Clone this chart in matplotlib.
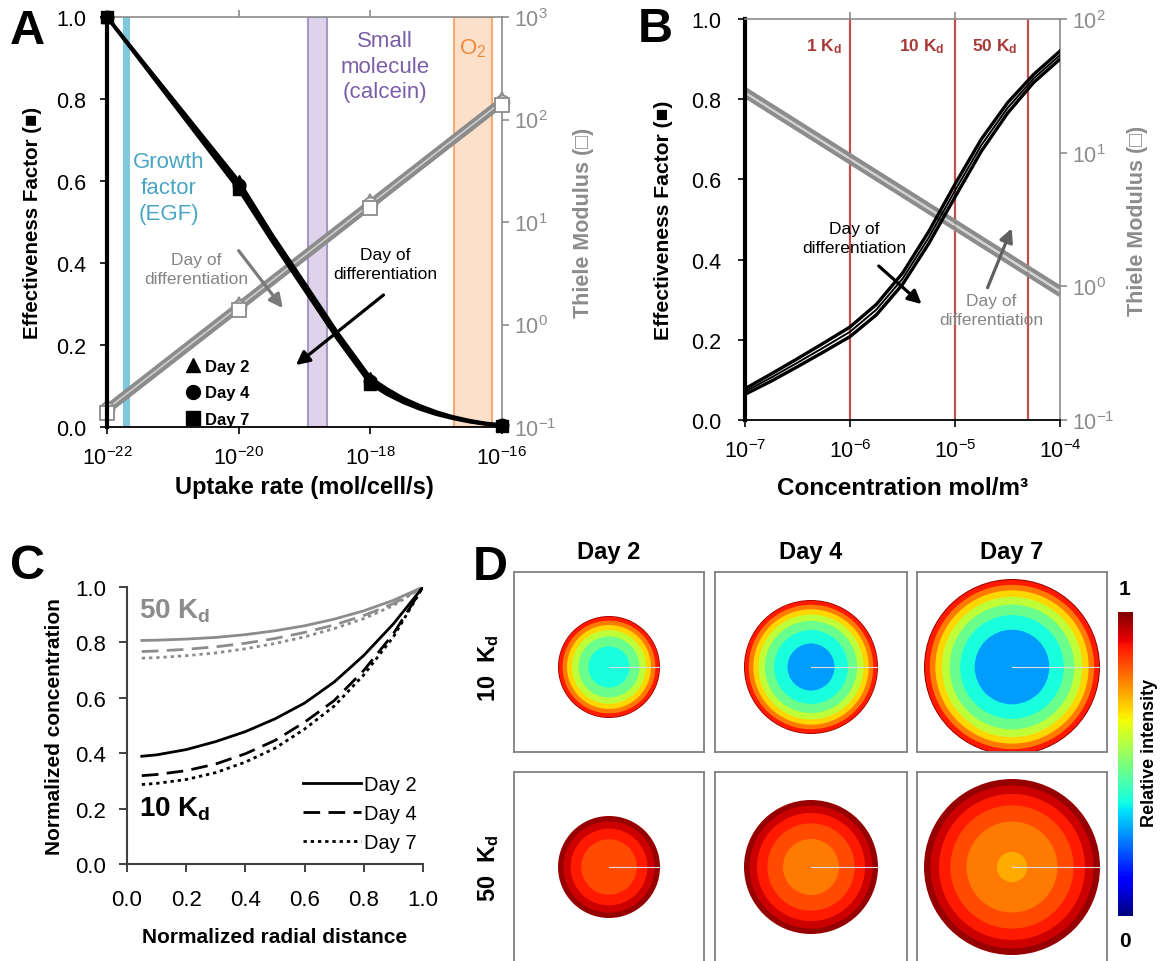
import numpy as np
import matplotlib
matplotlib.use('Agg')
import matplotlib.pyplot as plt
from matplotlib.lines import Line2D
from matplotlib.patches import Circle
from matplotlib.ticker import NullLocator, FormatStrFormatter
from matplotlib import cm
from matplotlib.colors import Normalize

plt.rcParams['font.family'] = ['Liberation Sans', 'DejaVu Sans']
plt.rcParams['mathtext.fontset'] = 'custom'
plt.rcParams['mathtext.rm'] = 'Liberation Sans'
plt.rcParams['mathtext.bf'] = 'Liberation Sans:bold'
plt.rcParams['mathtext.default'] = 'regular'

# ---------------- data ----------------
days = ['Day 2', 'Day 4', 'Day 7']
day_markers = ['^', 'o', 's']

# A: effectiveness factor / Thiele modulus vs uptake rate (log10 of mol/cell/s)
uptake_exp = [-22, -21, -20, -19.5, -19, -18.5, -18, -17.75, -17.5, -17.25, -17,
              -16.75, -16.5, -16.25, -16]
eff_a_day2 = [1.0, 0.80, 0.60, 0.471, 0.351, 0.23, 0.12, 0.093, 0.07, 0.052, 0.037,
              0.025, 0.016, 0.009, 0.005]
eff_a_day4 = [1.0, 0.795, 0.59, 0.463, 0.343, 0.222, 0.112, 0.086, 0.065, 0.048, 0.034,
              0.023, 0.014, 0.008, 0.004]
eff_a_day7 = [1.0, 0.79, 0.58, 0.455, 0.335, 0.215, 0.105, 0.08, 0.06, 0.044, 0.031,
              0.021, 0.013, 0.007, 0.003]
eff_marker_idx = [0, 2, 6, 14]
thiele_exp = [-22, -20, -18, -16]
thiele_a_day2 = [0.16, 1.6, 16.0, 160.0]
thiele_a_day4 = [0.149, 1.49, 14.9, 149.0]
thiele_a_day7 = [0.138, 1.38, 13.8, 138.0]
band_names = ['Growth\nfactor\n(EGF)', 'Small\nmolecule\n(calcein)', 'O$_2$']
band_lo_exp = [-21.74, -18.94, -16.73]
band_hi_exp = [-21.66, -18.66, -16.15]

# B: effectiveness factor / Thiele modulus vs concentration (log10 of mol/m3)
conc_exp = [-7, -6.75, -6.5, -6.25, -6, -5.75, -5.5, -5.25, -5, -4.75, -4.5, -4.25, -4]
eff_b_day2 = [0.078, 0.115, 0.153, 0.192, 0.232, 0.288, 0.366, 0.470, 0.588, 0.700,
              0.791, 0.862, 0.920]
eff_b_day4 = [0.071, 0.106, 0.143, 0.181, 0.220, 0.275, 0.352, 0.455, 0.572, 0.685,
              0.778, 0.852, 0.910]
eff_b_day7 = [0.064, 0.097, 0.133, 0.170, 0.208, 0.262, 0.338, 0.440, 0.556, 0.670,
              0.765, 0.842, 0.900]
thiele_b_exp = [-7, -4]
thiele_b_day2 = [26.5, 0.86]
thiele_b_day4 = [28.2, 0.92]
thiele_b_day7 = [30.0, 0.98]
kd_conc = [1e-6, 1e-5, 5e-5]
kd_labels = ['1 K$_\\mathbf{d}$', '10 K$_\\mathbf{d}$', '50 K$_\\mathbf{d}$']

# C: normalized concentration profiles
radial_pos = [0.05, 0.1, 0.2, 0.3, 0.4, 0.5, 0.6, 0.7, 0.8, 0.9, 1.0]
c10_day2 = [0.389, 0.394, 0.413, 0.442, 0.478, 0.524, 0.581, 0.657, 0.753, 0.867, 1.0]
c10_day4 = [0.319, 0.323, 0.337, 0.361, 0.398, 0.446, 0.512, 0.590, 0.699, 0.831, 1.0]
c10_day7 = [0.287, 0.291, 0.305, 0.330, 0.368, 0.418, 0.487, 0.570, 0.683, 0.820, 1.0]
c50_day2 = [0.807, 0.808, 0.812, 0.818, 0.828, 0.842, 0.860, 0.884, 0.914, 0.952, 1.0]
c50_day4 = [0.767, 0.769, 0.775, 0.784, 0.797, 0.814, 0.836, 0.863, 0.897, 0.940, 1.0]
c50_day7 = [0.743, 0.745, 0.752, 0.762, 0.777, 0.796, 0.820, 0.850, 0.886, 0.933, 1.0]

# D: relative spheroid radius per day
sphere_radius = [51, 67, 88]

# ---------------- figure ----------------
W, H = 1163, 962
fig = plt.figure(figsize=(W / 100, H / 100), dpi=100)


def px_axes(left, top, right, bottom):
    return fig.add_axes([left / W, 1 - bottom / H, (right - left) / W, (bottom - top) / H])


GRAY = '#8c8c8c'
LGRAY = '#cfcfcf'
TXTGRAY = '#858585'


def dual_axes(box, xlim, xticks, top_ticks, rlim, rticks, lpad):
    ax = px_axes(*box)
    ax.set_xscale('log')
    ax.set_xlim(*xlim)
    ax2 = ax.twinx()
    ax.set_zorder(ax2.get_zorder() + 1)
    ax.patch.set_visible(False)
    ax2.set_yscale('log')
    ax2.set_ylim(*rlim)
    ax.set_ylim(0, 1)
    ax.set_xticks(xticks)
    ax.xaxis.set_minor_locator(NullLocator())
    ax.set_yticks(np.arange(0, 1.01, 0.2))
    ax.yaxis.set_major_formatter(FormatStrFormatter('%.1f'))
    ax2.set_yticks(rticks)
    ax2.yaxis.set_minor_locator(NullLocator())
    ax.tick_params(labelsize=15.5, direction='out', length=5, width=1.2)
    ax.tick_params(axis='x', pad=9)
    ax.tick_params(axis='y', pad=lpad)
    ax2.tick_params(axis='y', labelsize=15.5, direction='out', length=5, width=1.2,
                    colors=GRAY)
    ax.spines['left'].set_linewidth(3)
    ax.spines['bottom'].set_linewidth(1.3)
    ax.spines['right'].set_visible(False)
    ax.spines['top'].set_color(GRAY)
    ax.spines['top'].set_linewidth(1.2)
    for s in ['left', 'top', 'bottom']:
        ax2.spines[s].set_visible(False)
    ax2.spines['right'].set_color(GRAY)
    ax2.spines['right'].set_linewidth(1.2)
    sec = ax.secondary_xaxis('top')
    sec.set_xticks(top_ticks, labels=[''] * len(top_ticks))
    sec.xaxis.set_minor_locator(NullLocator())
    sec.tick_params(direction='out', length=5, width=1.2, color=GRAY)
    sec.spines['top'].set_visible(False)
    return ax, ax2


def arrow(ax, tail, head, color):
    ax.annotate('', xy=head, xytext=tail,
                arrowprops=dict(arrowstyle='-|>', color=color, lw=2.3,
                                mutation_scale=20, shrinkA=0, shrinkB=0))


# ---------------- panel A ----------------
axA, axA2 = dual_axes((107, 18, 502, 428), (1e-22, 1e-16),
                      [1e-22, 1e-20, 1e-18, 1e-16], [1e-20, 1e-18],
                      (0.1, 1000), [0.1, 1, 10, 100, 1000], 10)
axA.set_ylabel('Effectiveness Factor (■)', fontsize=14.8, fontweight='bold', labelpad=10)
axA2.set_ylabel('Thiele Modulus (□)', fontsize=15.5, fontweight='bold', color=GRAY,
                labelpad=12)
axA.set_xlabel('Uptake rate (mol/cell/s)', fontsize=17, fontweight='bold', labelpad=4)

band_face = ['#7fc8dd', '#ddd3ea', '#fde0c9']
band_edge = ['#7fc8dd', '#a898c8', '#f4aa76']
band_text = ['#4aa5c4', '#7b5ea8', '#f08a3a']
band_text_pos = [(-21.06, 0.584), (-17.78, 0.88), (-16.44, 0.925)]
for lo, hi, fc, ec in zip(band_lo_exp, band_hi_exp, band_face, band_edge):
    axA2.axvspan(10.0 ** lo, 10.0 ** hi, facecolor=fc, edgecolor=ec, lw=1.5, zorder=0)
for name, col, (tx, ty) in zip(band_names, band_text, band_text_pos):
    axA.text(10.0 ** tx, ty, name, ha='center', va='center', fontsize=16, color=col,
             linespacing=1.3)

thiele_x = 10.0 ** np.array(thiele_exp)
for vals, col, lw in zip([thiele_a_day2, thiele_a_day4, thiele_a_day7],
                         [GRAY, LGRAY, GRAY], [3, 1.3, 3]):
    axA2.plot(thiele_x, vals, color=col, lw=lw, zorder=2, solid_capstyle='butt')
for vals, mk in zip([thiele_a_day2, thiele_a_day4, thiele_a_day7], day_markers):
    axA2.plot(thiele_x, vals, ls='none', marker=mk, ms=10, mfc='white', mec=GRAY,
              mew=1.3, clip_on=False, zorder=3)

uptake = 10.0 ** np.array(uptake_exp)
for vals, mk in zip([eff_a_day2, eff_a_day4, eff_a_day7], day_markers):
    axA.plot(uptake, vals, color='k', lw=2.5, marker=mk, ms=9, markevery=eff_marker_idx,
             clip_on=False, zorder=4)

axA.text(10.0 ** -20.65, 0.386, 'Day of\ndifferentiation', ha='center', va='center',
         fontsize=12.5, color=TXTGRAY, linespacing=1.35)
arrow(axA, (10.0 ** -20.0, 0.43), (10.0 ** -19.33, 0.29), '#7a7a7a')
axA.text(10.0 ** -17.78, 0.398, 'Day of\ndifferentiation', ha='center', va='center',
         fontsize=12.5, color='k', linespacing=1.35)
arrow(axA, (10.0 ** -17.8, 0.322), (10.0 ** -19.13, 0.151), 'k')

handles = [Line2D([], [], ls='none', marker=m, color='k', ms=10) for m in day_markers]
axA.legend(handles, days, loc='lower left', bbox_to_anchor=(0.2, 0.0), frameon=False,
           prop={'weight': 'bold', 'size': 12}, handlelength=0.8, handletextpad=0.35,
           labelspacing=0.7, borderpad=0, borderaxespad=0)

# ---------------- panel B ----------------
axB, axB2 = dual_axes((745, 20, 1060, 421), (1e-7, 1e-4),
                      [1e-7, 1e-6, 1e-5, 1e-4], [1e-6, 1e-5],
                      (0.1, 100), [0.1, 1, 10, 100], 12)
axB.set_ylabel('Effectiveness Factor (■)', fontsize=15.2, fontweight='bold', labelpad=13)
axB2.set_ylabel('Thiele Modulus (□)', fontsize=15.5, fontweight='bold', color=GRAY,
                labelpad=9)
axB.set_xlabel('Concentration mol/m³', fontsize=17.5, fontweight='bold', labelpad=10)

for kc in kd_conc:
    axB2.axvline(kc, color='#c0504d', lw=1.6, zorder=0)
for kc, lab, lx in zip(kd_conc, kd_labels, [-6.25, -5.32, -4.62]):
    axB.text(10.0 ** lx, 0.933, lab, ha='center', va='center', fontsize=12.5,
             fontweight='bold', color='#a83a38')

thiele_bx = 10.0 ** np.array(thiele_b_exp)
for vals, col, lw in zip([thiele_b_day2, thiele_b_day4, thiele_b_day7],
                         [GRAY, LGRAY, GRAY], [3, 1.3, 3]):
    axB2.plot(thiele_bx, vals, color=col, lw=lw, zorder=2, solid_capstyle='butt')

conc = 10.0 ** np.array(conc_exp)
for vals, lw in zip([eff_b_day2, eff_b_day4, eff_b_day7], [2.4, 1.4, 2.4]):
    axB.plot(conc, vals, color='k', lw=lw, zorder=4)

axB.text(10.0 ** -5.96, 0.453, 'Day of\ndifferentiation', ha='center', va='center',
         fontsize=12.5, color='k', linespacing=1.35)
arrow(axB, (10.0 ** -5.726, 0.384), (10.0 ** -5.318, 0.289), 'k')
axB.text(10.0 ** -4.655, 0.274, 'Day of\ndifferentiation', ha='center', va='center',
         fontsize=12.5, color=TXTGRAY, linespacing=1.35)
arrow(axB, (10.0 ** -4.69, 0.33), (10.0 ** -4.46, 0.478), '#606060')

# ---------------- panel C ----------------
axC = px_axes(127, 588, 423, 865)
styles = ['-', (0, (6, 3)), (0, (1.2, 1.4))]
c10 = [c10_day2, c10_day4, c10_day7]
c50 = [c50_day2, c50_day4, c50_day7]
for vals, ls in zip(c50, styles):
    axC.plot(radial_pos, vals, color=GRAY, lw=2, ls=ls)
lines = []
for vals, ls in zip(c10, styles):
    ln, = axC.plot(radial_pos, vals, color='k', lw=2, ls=ls)
    lines.append(ln)
axC.set_xlim(0, 1)
axC.set_ylim(0, 1)
axC.set_xticks(np.arange(0, 1.01, 0.2))
axC.set_yticks(np.arange(0, 1.01, 0.2))
axC.xaxis.set_major_formatter(FormatStrFormatter('%.1f'))
axC.yaxis.set_major_formatter(FormatStrFormatter('%.1f'))
axC.tick_params(labelsize=16, direction='out', length=6, width=1.4, color='#404040')
axC.tick_params(axis='x', pad=12)
axC.tick_params(axis='y', pad=9)
for s in ['top', 'right']:
    axC.spines[s].set_visible(False)
for s in ['left', 'bottom']:
    axC.spines[s].set_color('#404040')
    axC.spines[s].set_linewidth(1.5)
axC.set_ylabel('Normalized concentration', fontsize=15, fontweight='bold', labelpad=8)
axC.set_xlabel('Normalized radial distance', fontsize=15, fontweight='bold', labelpad=12)
axC.text(0.04, 0.915, '50 K$_\\mathbf{d}$', fontsize=20, fontweight='bold', color=GRAY,
         va='center')
axC.text(0.04, 0.2, '10 K$_\\mathbf{d}$', fontsize=20, fontweight='bold', color='k',
         va='center')
axC.legend(lines, days, loc='lower right', bbox_to_anchor=(1.02, 0.0), frameon=False,
           fontsize=14.5, handlelength=2.9, handletextpad=0.15, labelspacing=0.5,
           borderpad=0.1)

# ---------------- panel D ----------------
jet = plt.get_cmap('jet')
col_edges = [(514, 704), (715, 907), (917, 1107)]
row_edges = [(573, 753), (773, 963)]
row_center = [668, 868]
row_profiles = [c10, c50]
# colour banding per row: (band step, top band lower bound, colour offset in band)
row_banding = [(0.1, 0.98, 0.0), (0.05, 0.95, 0.03)]


def draw_sphere(ax, prof, R, step, top_low, offset):
    prof = np.asarray(prof)
    for lo in np.arange(top_low, -step, -step):
        hi = min(lo + step, 1.0)
        if hi <= prof[0]:
            break
        r_out = 1.0 if hi >= 1 else np.interp(hi, prof, radial_pos)
        ax.add_patch(Circle((0, 0), r_out * R, facecolor=jet(min(lo + offset, 1.0)),
                            edgecolor='none', lw=0))
    ax.plot([0, R], [0, 0], color='#dddddd', lw=0.8)


for (top, bot), cy, profs, banding in zip(row_edges, row_center, row_profiles,
                                          row_banding):
    for (left, right), prof, R in zip(col_edges, profs, sphere_radius):
        ax = px_axes(left, top, right, bot)
        cx = 0.5 * (left + right)
        ax.set_xlim(left - cx, right - cx)
        ax.set_ylim(cy - bot, cy - top)
        ax.set_xticks([])
        ax.set_yticks([])
        for s in ax.spines.values():
            s.set_color('#808080')
            s.set_linewidth(1.3)
        draw_sphere(ax, prof, R, *banding)

for (left, right), d in zip(col_edges, days):
    fig.text(0.5 * (left + right) / W, 1 - 552 / H, d, ha='center', va='center',
             fontsize=17, fontweight='bold')
for cy, lab in zip(row_center, ['10  K$_\\mathbf{d}$', '50  K$_\\mathbf{d}$']):
    fig.text(489 / W, 1 - cy / H, lab, ha='center', va='center', rotation=90,
             fontsize=17, fontweight='bold')

cax = px_axes(1118, 613, 1133, 917)
cb = fig.colorbar(cm.ScalarMappable(norm=Normalize(0, 1), cmap=jet), cax=cax, ticks=[])
cb.outline.set_visible(False)
fig.text(1125 / W, 1 - 590 / H, '1', ha='center', va='center', fontsize=15,
         fontweight='bold')
fig.text(1125 / W, 1 - 942 / H, '0', ha='center', va='center', fontsize=15,
         fontweight='bold')
fig.text(1150 / W, 1 - 753 / H, 'Relative intensity', ha='center', va='center',
         rotation=90, fontsize=13, fontweight='bold')

# ---------------- panel letters ----------------
for lab, x, y in [('A', 27, 31), ('B', 655, 29), ('C', 28, 567), ('D', 490, 568)]:
    fig.text(x / W, 1 - y / H, lab, ha='center', va='center', fontsize=35,
             fontweight='bold')

fig.savefig('out.png', dpi=100)
